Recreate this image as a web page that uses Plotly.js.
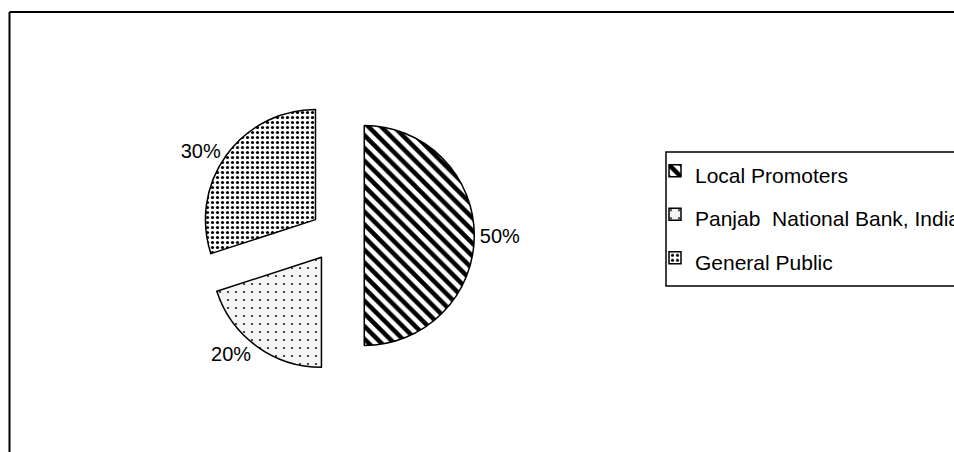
<!DOCTYPE html>
<html>
<head>
<meta charset="utf-8">
<script src="https://cdn.plot.ly/plotly-3.0.1.min.js"></script>
<style>html,body{margin:0;padding:0;background:#fff;overflow:hidden;}#chart{width:954px;height:452px;overflow:hidden;}</style>
</head>
<body>
<div id="chart"></div>
<script>
// Data
const categories = ['Local Promoters', 'Panjab\u00a0 National Bank, India', 'General Public'];
const shares = [50, 20, 30];

// Styles
const patternShapes = ['\\', '.', '.'];
const patternSizes = [9, 8, 5];
const patternSolidity = [0.5, 0.06, 0.32];
const patternBg = ['#ffffff', '#f4f4f4', '#ffffff'];
const patternFg = ['#000000', '#222222', '#000000'];

const W = 954, H = 452;
const px = v => v / W;
const py = v => 1 - v / H;

const trace = {
  type: 'pie',
  labels: categories.map(c => '<span style="font-size:21px">' + c + '</span>'),
  values: shares,
  sort: false,
  direction: 'clockwise',
  rotation: 0,
  pull: [0.245, 0.245, 0.245],
  textinfo: 'percent',
  textposition: 'outside',
  texttemplate: '%{percent:.0%}',
  outsidetextfont: {family: 'Liberation Sans, Arial, sans-serif', size: 20, color: '#000'},
  marker: {
    colors: patternBg,
    line: {color: '#000', width: 1.5},
    pattern: {
      shape: patternShapes,
      size: patternSizes,
      solidity: patternSolidity,
      fgcolor: patternFg,
      bgcolor: patternBg,
      fgopacity: 1,
      fillmode: 'replace'
    }
  },
  domain: {x: [px(187.3), px(487.3)], y: [py(372.5), py(98.5)]},
  automargin: false,
  hoverinfo: 'label+percent'
};

const layout = {
  width: W, height: H,
  margin: {l: 0, r: 0, t: 0, b: 0, autoexpand: false},
  paper_bgcolor: '#fff',
  font: {family: 'Liberation Sans, Arial, sans-serif', color: '#000'},
  showlegend: true,
  legend: {
    x: px(655), xanchor: 'left',
    y: py(144), yanchor: 'top',
    bgcolor: 'rgba(0,0,0,0)',
    borderwidth: 0,
    font: {family: 'Liberation Sans, Arial, sans-serif', size: 31.15, color: '#000'},
    traceorder: 'normal'
  },
  shapes: [
    {type: 'line', xref: 'paper', yref: 'paper', x0: px(9.5), x1: px(9.5), y0: py(12), y1: py(470), line: {color: '#000', width: 2}},
    {type: 'line', xref: 'paper', yref: 'paper', x0: px(9.5), x1: px(970), y0: py(12), y1: py(12), line: {color: '#000', width: 2}},
    {type: 'rect', xref: 'paper', yref: 'paper', x0: px(666), x1: px(980), y0: py(286), y1: py(152), line: {color: '#000', width: 1.5}, fillcolor: 'rgba(0,0,0,0)'}
  ]
};

Plotly.newPlot('chart', [trace], layout, {staticPlot: true, displayModeBar: false});
</script>
</body>
</html>
